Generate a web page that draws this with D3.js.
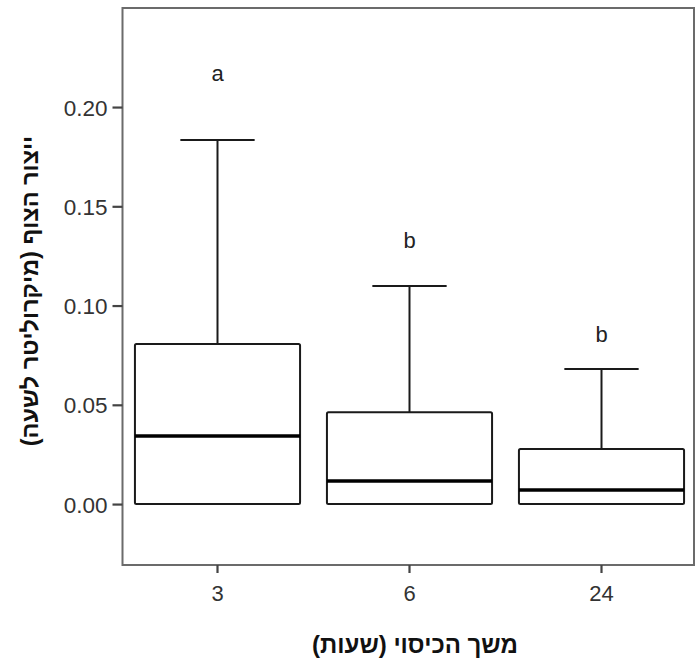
<!DOCTYPE html>
<html><head><meta charset="utf-8">
<script src="https://cdn.jsdelivr.net/npm/d3@7"></script>
<style>
html,body{margin:0;padding:0;background:#fff;}
svg{display:block;}
</style></head>
<body>
<svg id="c" width="695" height="660"></svg>
<script>
const categories = ["3", "6", "24"];
const q1 = [0.0, 0.0, 0.0];
const medians = [0.0343, 0.0116, 0.0071];
const q3 = [0.0806, 0.0463, 0.0277];
const whiskerHigh = [0.1834, 0.1098, 0.068];
const whiskerLow = [0.0, 0.0, 0.0];
const groupLetters = ["a", "b", "b"];
const letterLevels = [0.2131, 0.1290, 0.0816];
const yTicks = [0.00, 0.05, 0.10, 0.15, 0.20];
const yTitle = "ייצור הצוף (מיקרוליטר לשעה)";
const xTitle = "משך הכיסוי (שעות)";

const svg = d3.select("#c");
const L = 122.5, R = 694, T = 8, B = 565;
const x = d3.scaleBand().domain(categories).range([L - 1, 697.5]).paddingInner(0).paddingOuter(0);
const y = d3.scaleLinear().domain([-0.0307, 0.2499]).range([B, T]);
const font = "'Liberation Sans', Arial, sans-serif";
const axisColor = "#6b6b6b";
const boxW = x.bandwidth() * 0.86;
const capW = boxW * 0.45;

// frame
svg.append("rect").attr("x", L).attr("y", T).attr("width", R - L).attr("height", B - T)
  .attr("fill", "none").attr("stroke", axisColor).attr("stroke-width", 2);

// y axis
const yAxis = d3.axisLeft(y).tickValues(yTicks).tickFormat(d3.format(".2f")).tickSize(10).tickPadding(5);
const gy = svg.append("g").attr("transform", `translate(${L},0)`).call(yAxis);
gy.select(".domain").remove();
gy.selectAll(".tick line").attr("stroke", "#444").attr("stroke-width", 2.2);
gy.selectAll(".tick text").attr("font-family", font).attr("font-size", 22.5).attr("fill", "#333")
  .attr("dy", "0.36em");

// x axis
const xAxis = d3.axisBottom(x).tickSize(8).tickPadding(12);
const gx = svg.append("g").attr("transform", `translate(0,${B})`).call(xAxis);
gx.select(".domain").remove();
gx.selectAll(".tick line").attr("stroke", "#444").attr("stroke-width", 2.2);
gx.selectAll(".tick text").attr("font-family", font).attr("font-size", 22).attr("fill", "#333");

const data = categories.map((c, i) => ({c, q1: q1[i], med: medians[i], q3: q3[i], hi: whiskerHigh[i], lo: whiskerLow[i], letter: groupLetters[i], lv: letterLevels[i]}));
const g = svg.append("g");
const box = g.selectAll("g.box").data(data).join("g").attr("class", "box");
const cx = d => x(d.c) + x.bandwidth() / 2;

box.append("line").attr("x1", cx).attr("x2", cx).attr("y1", d => y(d.q3)).attr("y2", d => y(d.hi))
  .attr("stroke", "#1a1a1a").attr("stroke-width", 2);
box.append("line").attr("x1", d => cx(d) - capW / 2).attr("x2", d => cx(d) + capW / 2)
  .attr("y1", d => y(d.hi)).attr("y2", d => y(d.hi)).attr("stroke", "#1a1a1a").attr("stroke-width", 2);
box.append("rect").attr("x", d => cx(d) - boxW / 2).attr("width", boxW)
  .attr("y", d => y(d.q3)).attr("height", d => y(d.q1) - y(d.q3))
  .attr("fill", "#fff").attr("stroke", "#1a1a1a").attr("stroke-width", 2).attr("rx", 1.5);
box.append("line").attr("x1", d => cx(d) - boxW / 2).attr("x2", d => cx(d) + boxW / 2)
  .attr("y1", d => y(d.med)).attr("y2", d => y(d.med)).attr("stroke", "#000").attr("stroke-width", 3.5);
box.append("text").attr("x", cx).attr("y", d => y(d.lv)).attr("text-anchor", "middle")
  .attr("font-family", font).attr("font-size", 22).attr("fill", "#222").text(d => d.letter);

// titles
svg.append("text").attr("transform", "translate(38,291) rotate(-90)").attr("text-anchor", "middle")
  .attr("direction", "rtl").attr("font-family", font).attr("font-weight", "bold").attr("font-size", 23.5)
  .attr("fill", "#111").text(yTitle);
svg.append("text").attr("x", 415).attr("y", 653).attr("text-anchor", "middle")
  .attr("direction", "rtl").attr("font-family", font).attr("font-weight", "bold").attr("font-size", 24)
  .attr("fill", "#111").text(xTitle);
</script>
</body></html>
